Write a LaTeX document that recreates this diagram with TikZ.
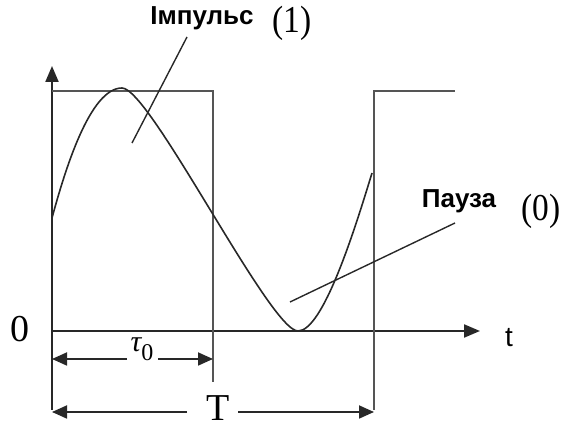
\documentclass[tikz,border=0pt]{standalone}
\usepackage{fontspec}
\setmainfont{Liberation Serif}
\newfontfamily\labelsans{Liberation Sans}
\usetikzlibrary{arrows.meta, positioning, calc}
\definecolor{axisgray}{RGB}{40, 40, 40}
\definecolor{pulsegray}{RGB}{85, 85, 85}
\tikzset{
  axisline/.style={draw=axisgray, line width=2.2pt, -{Triangle[length=16pt, width=13pt]}},
  pulseline/.style={draw=pulsegray, line width=1.8pt},
  sineline/.style={draw=axisgray, line width=1.6pt},
  leader/.style={draw=axisgray, line width=1.4pt},
  dimarrow/.style={-{Triangle[length=15pt, width=13pt]}, draw=axisgray, line width=1.8pt},
  sanslabel/.style={font=\labelsans\bfseries\fontsize{26}{28}\selectfont, inner sep=0pt, anchor=base},
  seriflabel/.style={font=\fontsize{38}{40}\selectfont, inner sep=0pt, anchor=base},
}

\begin{document}
\begin{tikzpicture}[x=1pt, y=1pt]
  \useasboundingbox (0,0) rectangle (565,428);
  % axes
  \coordinate (o) at (52,97);
  \coordinate (ytop) at (52,362);
  \coordinate (ybot) at (52,18);
  \coordinate (xend) at (480,97);
  \draw[axisline] (ybot)--(ytop);
  \draw[axisline] (o)--(xend);
  \node[seriflabel] (zero) at (20,86) {0};
  \node[font=\labelsans\fontsize{28}{30}\selectfont, inner sep=0pt, anchor=base] (tlab) at (509,81) {t};
  % pulses
  \coordinate (p1top) at (52,337);
  \coordinate (p1corner) at (213,337);
  \coordinate (p1low) at (213,46);
  \coordinate (p2low) at (374,18);
  \coordinate (p2corner) at (374,337);
  \coordinate (p2end) at (455,337);
  \draw[pulseline] (p1top)--(p1corner)--(p1low);
  \draw[pulseline] (p2low)--(p2corner)--(p2end);
  % sine
  \coordinate (s0) at (52,210);
  \coordinate (speak) at (122,340);
  \coordinate (strough) at (298,97);
  \coordinate (send) at (372,255);
  \draw[sineline] (s0) .. controls (65,258) and (90,340) .. (speak)
    .. controls (150,340) and (270,97) .. (strough)
    .. controls (323,97) and (354.5,197.6) .. (send);
  % durations
  \coordinate (taua) at (52,69);
  \coordinate (taub) at (213,69);
  \coordinate (taugapl) at (127,69);
  \coordinate (taugapr) at (158,69);
  \node[font=\fontsize{30}{32}\selectfont, inner sep=0pt, anchor=base] (taulab) at (142,76)
    {\itshape τ\upshape\raisebox{-9pt}{\fontsize{24}{24}\selectfont 0}};
  \draw[dimarrow] (taugapl)--(taua);
  \draw[dimarrow] (taugapr)--(taub);
  \coordinate (pera) at (52,16);
  \coordinate (perb) at (374,16);
  \coordinate (pergapl) at (187,16);
  \coordinate (pergapr) at (238,16);
  \node[seriflabel] (perlab) at (218,7) {T};
  \draw[dimarrow] (pergapl)--(pera);
  \draw[dimarrow] (pergapr)--(perb);
  % labels
  \node[sanslabel] (imp) at (202,403) {Імпульс};
  \node[seriflabel, xscale=0.88] (one) at (292,395) {(1)};
  \node[sanslabel] (pause) at (459,220) {Пауза};
  \node[seriflabel, xscale=0.88] (nil) at (541,207) {(0)};
  \coordinate (imptip) at (132,285);
  \coordinate (impend) at (187,391);
  \coordinate (pausetip) at (290,126);
  \coordinate (pauseend) at (455,205);
  \draw[leader] (imptip)--(impend);
  \draw[leader] (pausetip)--(pauseend);
\end{tikzpicture}
\end{document}
